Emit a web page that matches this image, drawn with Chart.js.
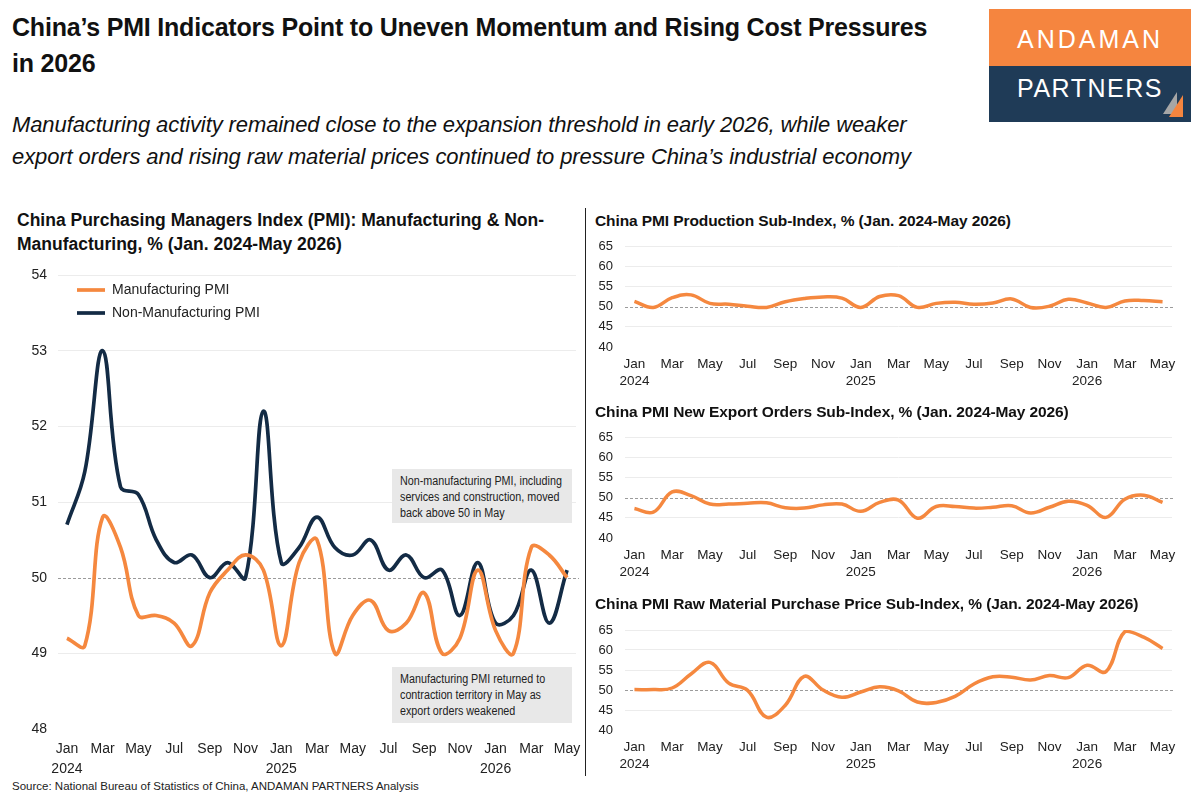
<!DOCTYPE html>
<html>
<head>
<meta charset="utf-8">
<script src="https://cdn.jsdelivr.net/npm/chart.js@4.4.1/dist/chart.umd.min.js"></script>
<style>
  body { margin: 0; width: 1200px; height: 800px; background: #fff; position: relative; overflow: hidden;
         font-family: 'Liberation Sans', Arial, sans-serif; color: #111; }
  .abs { position: absolute; }
  #title { left: 12px; top: 9px; font-size: 25px; font-weight: bold; line-height: 36px; letter-spacing: -0.2px; }
  #subtitle { left: 12px; top: 109px; font-size: 22px; font-style: italic; line-height: 32px; letter-spacing: -0.1px; }
  .ctitle { font-size: 17.5px; font-weight: bold; line-height: 24px; }
  .rtitle { left: 595px; font-size: 15.5px; font-weight: bold; letter-spacing: -0.1px; }
  .note { background: #e8e8e8; box-sizing: border-box; width: 180px; padding: 4px 0 0 8px; }
  .note div { font-size: 12.5px; line-height: 16px; color: #222; white-space: nowrap; transform: scaleX(0.86); transform-origin: left top; }
  #logo { left: 989px; top: 9px; width: 202px; height: 113px; }
  #logo .top { height: 57px; background: #F5853F; color: #fff; font-size: 25px; letter-spacing: 3px; text-align: center; line-height: 60px; }
  #logo .bot { height: 56px; background: #1F3B57; color: #fff; font-size: 25px; letter-spacing: 1.5px; text-align: center; line-height: 44px; position: relative; }
  #divider { left: 585px; top: 208px; width: 1px; height: 568px; background: #222; }
  #source { left: 12px; top: 780px; font-size: 11.5px; color: #222; }
</style>
</head>
<body>
<div id="title" class="abs">China’s PMI Indicators Point to Uneven Momentum and Rising Cost Pressures<br>in 2026</div>
<div id="subtitle" class="abs">Manufacturing activity remained close to the expansion threshold in early 2026, while weaker<br>export orders and rising raw material prices continued to pressure China’s industrial economy</div>
<div id="logo" class="abs">
  <div class="top">ANDAMAN</div>
  <div class="bot">PARTNERS
    <svg style="position:absolute;left:172px;top:23px" width="24" height="28">
      <polygon points="2,25 16,3 16,25" fill="#A6A6A6"/>
      <polygon points="8,28 22,6 22,28" fill="#F5853F"/>
    </svg>
  </div>
</div>

<div class="abs ctitle" style="left:17px;top:208px">China Purchasing Managers Index (PMI): Manufacturing &amp; Non-<br>Manufacturing, % (Jan. 2024-May 2026)</div>
<div class="abs" style="left:0;top:262px;width:590px;height:517px"><canvas id="pmiChart"></canvas></div>
<div class="abs note" style="left:392px;top:469px;height:54px"><div>Non-manufacturing PMI, including<br>services and construction, moved<br>back above 50 in May</div></div>
<div class="abs note" style="left:392px;top:667px;height:56px"><div>Manufacturing PMI returned to<br>contraction territory in May as<br>export orders weakened</div></div>

<div id="divider" class="abs"></div>

<div class="abs rtitle" style="top:212px">China PMI Production Sub-Index, % (Jan. 2024-May 2026)</div>
<div class="abs" style="left:585px;top:238px;width:600px;height:159px"><canvas id="prodChart"></canvas></div>
<div class="abs rtitle" style="top:403px">China PMI New Export Orders Sub-Index, % (Jan. 2024-May 2026)</div>
<div class="abs" style="left:585px;top:429px;width:600px;height:159px"><canvas id="exportChart"></canvas></div>
<div class="abs rtitle" style="top:595px">China PMI Raw Material Purchase Price Sub-Index, % (Jan. 2024-May 2026)</div>
<div class="abs" style="left:585px;top:622px;width:600px;height:158px"><canvas id="priceChart"></canvas></div>

<div id="source" class="abs">Source: National Bureau of Statistics of China, ANDAMAN PARTNERS Analysis</div>

<script>
const categories = ['Jan 2024', 'Feb 2024', 'Mar 2024', 'Apr 2024', 'May 2024', 'Jun 2024', 'Jul 2024', 'Aug 2024',
  'Sep 2024', 'Oct 2024', 'Nov 2024', 'Dec 2024', 'Jan 2025', 'Feb 2025', 'Mar 2025', 'Apr 2025', 'May 2025',
  'Jun 2025', 'Jul 2025', 'Aug 2025', 'Sep 2025', 'Oct 2025', 'Nov 2025', 'Dec 2025', 'Jan 2026', 'Feb 2026',
  'Mar 2026', 'Apr 2026', 'May 2026'];

const manufacturingPMI = [49.2, 49.1, 50.8, 50.4, 49.5, 49.5, 49.4, 49.1, 49.8, 50.1, 50.3, 50.1,
  49.1, 50.2, 50.5, 49.0, 49.5, 49.7, 49.3, 49.4, 49.8, 49.0, 49.2, 50.1, 49.3, 49.0, 50.4, 50.3, 50.0];
const nonManufacturingPMI = [50.7, 51.4, 53.0, 51.2, 51.1, 50.5, 50.2, 50.3, 50.0, 50.2, 50.0, 52.2,
  50.2, 50.4, 50.8, 50.4, 50.3, 50.5, 50.1, 50.3, 50.0, 50.1, 49.5, 50.2, 49.4, 49.5, 50.1, 49.4, 50.1];
const productionIndex = [51.3, 49.8, 52.2, 52.9, 50.8, 50.6, 50.1, 49.8, 51.2, 52.0, 52.4, 52.1,
  49.8, 52.5, 52.7, 49.8, 50.8, 51.1, 50.6, 50.9, 51.9, 49.8, 50.1, 51.8, 50.9, 49.8, 51.4, 51.5, 51.2];
const exportOrdersIndex = [47.3, 46.4, 51.4, 50.5, 48.4, 48.4, 48.6, 48.7, 47.5, 47.4, 48.2, 48.4,
  46.6, 48.8, 49.4, 44.9, 47.8, 47.8, 47.4, 47.6, 48.0, 46.2, 47.6, 49.1, 48.1, 45.1, 49.6, 50.6, 48.8];
const rawMaterialPriceIndex = [50.1, 50.1, 50.5, 54.0, 56.9, 51.7, 49.9, 43.2, 46.2, 53.4, 50.0, 48.2,
  49.5, 50.8, 49.8, 47.0, 46.9, 48.4, 51.5, 53.3, 53.2, 52.5, 53.6, 53.1, 56.2, 54.6, 64.6, 63.2, 60.4];

const pmiTicks = [48, 49, 50, 51, 52, 53, 54];
const subIndexTicks = [40, 45, 50, 55, 60, 65];
const threshold = 50;

const orange = '#F5883F';
const navy = '#132B45';

Chart.defaults.font.family = "'Liberation Sans Narrow', 'Arial Narrow', 'Liberation Sans', Arial, sans-serif";
Chart.defaults.color = '#222';

// dashed 50 line drawn through the y scale
const thresholdLine = {
  id: 'thresholdLine',
  beforeDatasetsDraw(chart) {
    const { ctx, chartArea, scales } = chart;
    const y = Math.round(scales.y.getPixelForValue(threshold)) + 0.5;
    ctx.save();
    ctx.strokeStyle = '#9b9b9b';
    ctx.lineWidth = 1;
    ctx.setLineDash([3, 2]);
    ctx.beginPath();
    ctx.moveTo(chartArea.left, y);
    ctx.lineTo(chartArea.right + 3, y);
    ctx.stroke();
    ctx.restore();
  }
};

// nudge the in-plot legend off the corner
const legendOffset = {
  id: 'legendOffset',
  afterLayout(chart) {
    chart.legend.left += 10;
    chart.legend.top += 12;
  }
};

function monthTick(value, index) {
  if (index % 2) return '';
  const parts = categories[index].split(' ');
  return parts[0] === 'Jan' ? parts : parts[0];
}

function makeScales(ticks, yWidth, xFont, xPad, yFont, yPad) {
  return {
    x: {
      offset: true,
      grid: { display: false, drawTicks: false },
      border: { display: false },
      ticks: { autoSkip: false, maxRotation: 0, minRotation: 0, padding: xPad, font: xFont, callback: monthTick },
      afterFit: s => { s.height = 50; s.paddingLeft = 0; s.paddingRight = 0; }
    },
    y: {
      min: ticks[0],
      max: ticks[ticks.length - 1],
      afterBuildTicks: s => { s.ticks = ticks.map(v => ({ value: v })); },
      grid: {
        drawTicks: false,
        color: c => (c.index === 0 || c.tick.value === threshold) ? 'rgba(0,0,0,0)' : '#ececec'
      },
      border: { display: false },
      ticks: { autoSkip: false, padding: yPad, font: yFont },
      afterFit: s => { s.width = yWidth; s.paddingTop = 0; s.paddingBottom = 0; }
    }
  };
}

const ctx1 = document.getElementById('pmiChart').getContext('2d');
const pmiChart = new Chart(ctx1, {
  type: 'line',
  data: {
    labels: categories,
    datasets: [
      {
        label: 'Manufacturing PMI',
        data: manufacturingPMI,
        borderColor: orange,
        backgroundColor: orange,
        borderWidth: 3.7,
        pointRadius: 0,
        tension: 0.4
      },
      {
        label: 'Non-Manufacturing PMI',
        data: nonManufacturingPMI,
        borderColor: navy,
        backgroundColor: navy,
        borderWidth: 3.7,
        pointRadius: 0,
        tension: 0.4
      }
    ]
  },
  options: {
    responsive: true,
    maintainAspectRatio: false,
    animation: false,
    layout: { padding: { top: 13, right: 14, left: 0, bottom: 0 } },
    plugins: {
      legend: {
        position: 'chartArea',
        align: 'start',
        labels: {
          usePointStyle: true,
          pointStyle: 'line',
          pointStyleWidth: 28,
          padding: 9,
          font: { size: 14 },
          color: '#222'
        }
      },
      tooltip: { enabled: false }
    },
    scales: makeScales(pmiTicks, 58, { size: 14, lineHeight: 1.43 }, 10, { size: 14 }, 11)
  },
  plugins: [thresholdLine, legendOffset]
});

function subIndexChart(id, values) {
  const ctx = document.getElementById(id).getContext('2d');
  return new Chart(ctx, {
    type: 'line',
    data: {
      labels: categories,
      datasets: [{
        data: values,
        borderColor: orange,
        backgroundColor: orange,
        borderWidth: 3.5,
        pointRadius: 0,
        tension: 0.4
      }]
    },
    options: {
      responsive: true,
      maintainAspectRatio: false,
      animation: false,
      layout: { padding: { top: 8, right: 13, left: 0, bottom: 0 } },
      plugins: { legend: { display: false }, tooltip: { enabled: false } },
      scales: makeScales(subIndexTicks, 40, { size: 13.5, lineHeight: 1.26 }, 9, { size: 13 }, 12)
    },
    plugins: [thresholdLine]
  });
}

const prodChart = subIndexChart('prodChart', productionIndex);
const exportChart = subIndexChart('exportChart', exportOrdersIndex);
const priceChart = subIndexChart('priceChart', rawMaterialPriceIndex);
</script>
</body>
</html>
